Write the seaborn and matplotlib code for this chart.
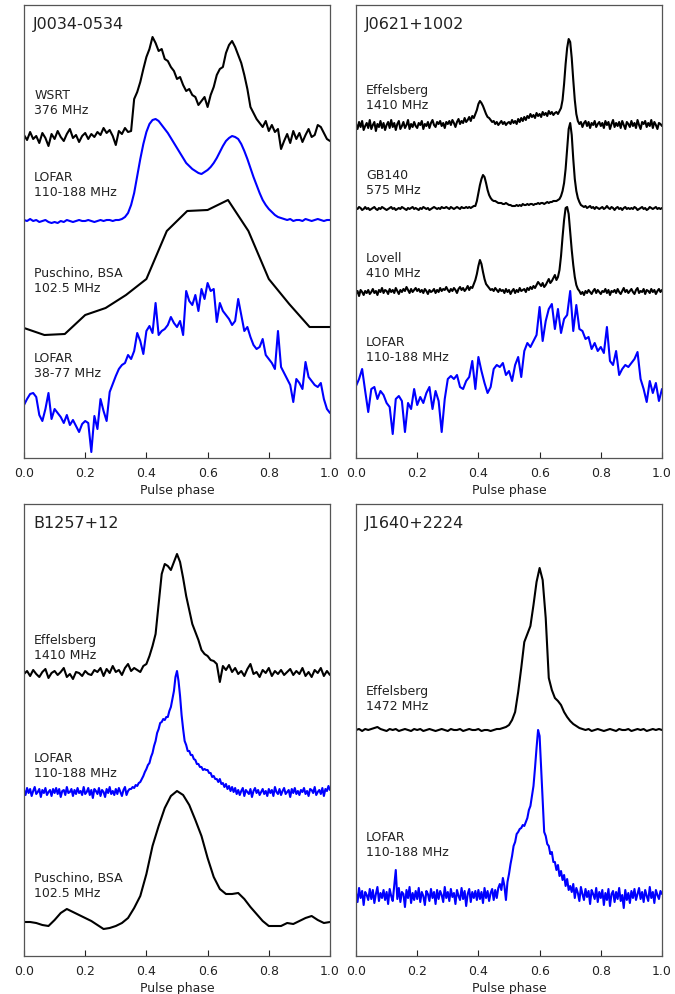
import numpy as np
import pandas as pd
import matplotlib
matplotlib.use("Agg")
import matplotlib.pyplot as plt
import seaborn as sns

# ---------------------------------------------------------------------------
# Pulse profiles: intensity above each profile's own baseline (common scale)
# ---------------------------------------------------------------------------

# J0034-0534
j0034_wsrt_376 = [
    2, -3, 5, -2, 1, -6, 4, -1, -9, 3,
    -2, 6, 0, -4, 3, 8, -1, 2, -5, 1,
    4, -2, 3, 0, 5, 2, 9, 4, 7, 1,
    -8, 6, 3, 9, 5, 6, 38, 45, 55, 68,
    80, 88, 100, 94, 86, 88, 78, 76, 70, 66,
    58, 60, 52, 46, 48, 42, 40, 32, 36, 40,
    30, 42, 50, 62, 68, 70, 84, 92, 96, 90,
    82, 74, 62, 48, 30, 24, 18, 14, 10, 16,
    6, 12, 5, 8, -12, -4, 3, -6, 6, -2,
    4, -5, 2, 8, 0, 2, 12, 10, 4, -2,
    -4]
j0034_lofar_hba = [
    1, 0, 2, 0, 1, -1, 0, 1, -1, -2,
    -1, -2, 0, -1, 1, 0, -1, 0, 1, 0,
    0, 1, 0, -1, 0, 1, 0, 1, 1, 0,
    1, 1, 2, 4, 8, 16, 28, 45, 62, 77,
    89, 97, 101, 102, 100, 96, 92, 88, 83, 78,
    73, 68, 63, 58, 55, 52, 50, 48, 47, 49,
    51, 54, 58, 63, 69, 75, 80, 83, 85, 84,
    82, 77, 70, 62, 53, 44, 36, 28, 21, 16,
    12, 9, 6, 4, 3, 2, 1, 2, 0, 1,
    1, 0, 2, 1, 0, 1, 2, 1, 0, 1, 1]
j0034_bsa_102 = [0, -7, -6, 13, 20, 33, 49, 97, 117, 118, 128, 97, 49, 24, 1, 1]
j0034_lofar_lba = [
    24, 30, 35, 36, 32, 14, 8, 20, 36, 10,
    20, 16, 12, 6, 14, 4, 9, 3, -3, 5,
    8, 6, -23, 13, 0, 30, 18, 8, 37, 45,
    53, 60, 64, 66, 74, 70, 78, 96, 88, 75,
    98, 103, 96, 126, 94, 98, 100, 104, 112, 106,
    102, 108, 94, 138, 128, 124, 134, 118, 140, 130,
    146, 138, 140, 107, 126, 118, 114, 110, 104, 108,
    130, 114, 98, 102, 92, 84, 80, 82, 90, 74,
    70, 66, 60, 98, 62, 56, 50, 44, 27, 50,
    46, 40, 67, 52, 48, 44, 42, 46, 30, 20, 16]

# J0621+1002
j0621_eff_1410 = [
    2, -3, 4, -1, 5, -4, 0, 3, -2, 6, -3, 1, 4, -5, 2, -1, 5, -2, 3, -4,
    1, 4, -2, 6, -1, 3, -4, 2, 5, -3, 0, 4, -2, 1, 6, -3, 2, -1, 4, 0,
    -2, 3, 1, 5, -3, 2, 0, 4, -2, 3, 6, 1, -1, 4, 2, 5, 0, 3, -2, 4,
    2, 5, 1, 6, 3, -1, 4, 7, 2, 5, 3, 8, 4, 6, 9, 5, 10, 8, 12, 16,
    22, 25, 23, 20, 16, 12, 9, 8, 6, 4, 5, 2, 4, 1, 3, 5, 2, 4, 1, 3,
    4, 2, 6, 3, 5, 2, 7, 4, 8, 5, 9, 6, 10, 8, 12, 9, 11, 8, 13, 10,
    12, 9, 14, 11, 13, 10, 15, 12, 14, 11, 13, 14, 12, 15, 18, 26, 42, 62, 78, 87,
    84, 68, 46, 26, 12, 5, 2, 4, -1, 3, 5, 0, 4, -2, 3, 1, 5, -1, 2, 4,
    0, 3, -2, 5, 1, 4, -3, 2, 6, -1, 3, 0, 4, -2, 5, 1, -3, 4, 2, -1,
    5, 0, 3, -2, 6, 1, -3, 4, 2, 5, -1, 3, 0, 6, -2, 4, 1, -3, 3, 2, 0]
j0621_gb140_575 = [
    1, 0, 2, 1, -1, 0, 2, 0, 1, -1, 0, 1, 2, 0, -1, 1, 0, 2, 1, 0,
    -1, 0, 1, 2, 0, 1, -1, 0, 1, 0, 2, 1, 0, -1, 1, 0, 1, 2, 0, 1,
    0, -1, 1, 0, 2, 1, 0, 1, -1, 0, 1, 2, 1, 0, 1, 0, 2, 1, 1, 2,
    1, 0, 2, 1, 0, 1, 2, 1, 0, 2, 1, 1, 2, 1, 2, 1, 2, 3, 3, 8,
    16, 24, 30, 34, 32, 26, 19, 14, 11, 9, 8, 8, 7, 6, 6, 6, 5, 5, 6, 5,
    4, 4, 3, 3, 3, 4, 3, 4, 3, 5, 4, 4, 5, 4, 5, 5, 4, 5, 5, 6,
    5, 6, 6, 5, 6, 7, 6, 7, 7, 8, 8, 8, 9, 10, 13, 18, 26, 40, 60, 80,
    86, 74, 50, 30, 18, 11, 7, 4, 3, 2, 3, 1, 2, 3, 1, 2, 0, 2, 1, 0,
    1, 2, 0, 1, 3, 1, 0, 2, 1, -1, 1, 2, 0, 1, -1, 1, 2, 0, 1, 0,
    1, 0, 2, 1, -1, 0, 1, 2, 0, 1, -1, 0, 2, 1, 0, 1, 2, 0, 1, 0, 1]
j0621_lovell_410 = [
    -2, 1, -4, 2, 0, -3, 1, -1, 2, -2, 0, 3, -1, 1, -3, 2, 0, 4, -1, 2,
    1, -2, 3, 0, 2, -1, 4, 1, -2, 2, 0, 3, 1, 5, 2, -1, 3, 0, 2, 4,
    1, 3, 0, 2, -1, 3, 1, -2, 2, 0, 1, 3, -1, 2, 0, 4, 1, 3, 2, 5,
    2, 0, 3, 1, 4, 2, -1, 3, 5, 2, 4, 1, 3, 6, 2, 5, 4, 8, 12, 18,
    26, 32, 28, 20, 13, 8, 6, 4, 2, 3, 1, 4, 2, 0, 3, 1, 2, -1, 3, 0,
    2, -2, 1, 3, -1, 2, 0, 4, 1, 2, 3, 0, 4, 2, 5, 3, 6, 4, 7, 10,
    8, 6, 9, 5, 7, 10, 13, 9, 11, 14, 17, 12, 15, 22, 36, 55, 72, 84, 85, 78,
    60, 42, 27, 15, 7, 3, 1, -2, 0, -3, 1, -1, 2, 0, -2, 1, 3, -1, 2, 0,
    -2, 1, 0, 3, -1, 2, -3, 1, 0, 2, -1, 3, 0, -2, 1, 4, 0, 2, -1, 1,
    3, 0, -2, 2, 4, -1, 1, 0, 3, -2, 2, 1, -1, 3, 0, 2, -2, 1, 3, 0, 2]
j0621_lofar_hba = [
    23, 30, 40, 18, -3, 20, 22, 10, 18, 14,
    6, 2, -25, 10, 13, 8, -23, 6, 0, 20,
    4, 12, 6, 16, 22, 0, 18, 8, -23, 10,
    30, 33, 30, 34, 22, 20, 28, 32, 48, 20,
    52, 38, 26, 16, 22, 40, 44, 42, 46, 34,
    38, 28, 44, 52, 32, 58, 66, 62, 68, 74,
    102, 68, 88, 100, 105, 80, 100, 76, 90, 94,
    118, 78, 104, 80, 78, 70, 72, 60, 66, 58,
    62, 56, 82, 48, 44, 58, 34, 40, 44, 42,
    46, 50, 57, 30, 20, 7, 28, 16, 26, 8, 20]

# B1257+12
b1257_eff_1410 = [
    0, 3, -2, 4, 0, -3, 2, 5, -4, 1,
    3, -1, 2, 6, -3, 0, -5, 2, 1, -2,
    3, 0, -1, 4, 2, 6, -2, 5, 1, 8,
    2, 4, -1, 6, 10, 3, 6, 4, 2, 8,
    10, 18, 28, 40, 70, 100, 110, 108, 104, 112,
    120, 112, 96, 78, 64, 50, 42, 34, 24, 20,
    18, 14, 13, 10, -8, 8, 4, 9, 2, 6,
    0, 3, -2, 5, 10, 0, 2, -3, 4, 1,
    6, -2, 3, 0, 4, -1, 2, 5, -1, 3,
    0, 6, -2, 2, -3, 4, 1, 6, -2, 3, -1]
b1257_lofar_hba = [
    2, -3, 4, -1, 3, -4, 1, 5, -2, 0, 3, -5, 2, -1, 4, -3, 0, 2, -4, 3,
    -1, 4, -2, 3, -5, 1, 2, -3, 5, -1, 0, 3, -4, 2, -2, 4, -1, 1, -3, 5,
    -2, 0, 4, -3, 2, -6, 3, 1, -2, 4, -4, 2, 0, -5, 3, -1, 5, -2, 1, -3,
    3, -2, 4, 0, -4, 2, 5, -3, 1, 3, 3, 5, 4, 7, 6, 9, 10, 13, 16, 20,
    23, 27, 29, 35, 39, 46, 51, 59, 63, 69, 70, 73, 72, 75, 75, 81, 85, 93, 101, 115,
    121, 111, 96, 77, 63, 51, 47, 41, 41, 37, 37, 33, 32, 28, 28, 25, 25, 22, 23, 22,
    22, 19, 19, 15, 16, 13, 13, 10, 13, 8, 9, 5, 8, 3, 6, 1, 5, 0, 4, -2,
    2, -3, 1, 4, -4, 2, 0, -2, 3, -5, 1, 4, -1, 2, -3, 0, 3, -2, 1, -4,
    3, -1, 2, -4, 5, 0, -2, 3, -3, 1, 4, -2, 0, 2, -5, 3, -1, 4, -2, 1,
    -3, 2, 0, 4, -2, 1, -4, 3, 2, -1, 5, -3, 0, 2, -2, 4, -4, 3, 1, 6, 2]
b1257_bsa_102 = [
    4, 4, 3, 1, 0, 6, 13, 17, 14, 11,
    8, 5, 1, -3, -2, 0, 3, 8, 18, 30,
    52, 80, 100, 118, 130, 135, 131, 121, 106, 90,
    68, 49, 37, 32, 32, 33, 27, 19, 12, 5,
    0, 0, 0, 3, 2, 5, 8, 10, 6, 3, 4]

# J1640+2224
j1640_eff_1472 = [
    0, 1, -1, 1, 0, 1, 2, 3, 1, 0,
    -1, 1, 0, 1, -1, 0, 1, 0, -1, 1,
    0, 1, -1, 0, 1, 0, -1, 0, 1, 0,
    -1, 1, 0, 0, 1, -1, 0, 1, 0, 0,
    1, -1, 0, 0, -1, 0, 1, 1, 2, 3,
    5, 10, 18, 38, 62, 88, 96, 104, 125, 148,
    162, 150, 112, 52, 40, 32, 29, 25, 18, 13,
    9, 6, 4, 2, 1, 0, 1, -1, 0, 1,
    0, -1, 0, 1, 0, -1, 1, 0, 0, 1,
    -1, 0, 1, 0, 1, -1, 0, 1, 0, 1, 0]
j1640_lofar_hba = [
    3, -6, 8, -2, 5, -9, 4, 1, -4, 7, -3, 6, -7, 2, 9, -5, 3, -2, 6, -4,
    4, -8, 7, 0, -5, 10, 26, -3, 8, -6, 4, 2, -11, 6, -2, 9, -7, 3, -4, 5,
    -3, 8, -6, 4, 0, -9, 5, 2, -5, 7, -2, 4, -8, 6, -3, 5, 1, -6, 9, -2,
    4, -5, 7, -1, 3, -8, 6, 0, -4, 8, -3, 5, -10, 2, 7, -6, 4, -2, 5, -4,
    6, -3, 4, -7, 8, -2, 5, -5, 3, 7, -4, 6, -2, 8, 12, 6, 18, 10, -4, 14,
    22, 32, 40, 50, 54, 62, 64, 67, 68, 71, 70, 74, 78, 86, 90, 100, 110, 128, 148, 166,
    160, 128, 96, 64, 60, 52, 50, 42, 44, 34, 34, 26, 31, 20, 25, 16, 21, 10, 17, 6,
    10, 4, 12, -2, 8, 3, -5, 9, 2, -4, 7, -1, 5, -8, 6, 2, -3, 8, -6, 4,
    -2, 6, -9, 3, -4, 7, -10, 2, 5, -6, 4, -3, 8, -5, 1, -12, 6, -4, 3, -7,
    5, -2, 7, -4, 2, 8, -3, 4, -6, 6, 0, -5, 9, -2, 4, -7, 6, 1, -3, 5, 2]

# Panel titles and per-trace labels
pulsars = ["J0034-0534", "J0621+1002", "B1257+12", "J1640+2224"]
labels = [
    ["WSRT\n376 MHz", "LOFAR\n110-188 MHz", "Puschino, BSA\n102.5 MHz", "LOFAR\n38-77 MHz"],
    ["Effelsberg\n1410 MHz", "GB140\n575 MHz", "Lovell\n410 MHz", "LOFAR\n110-188 MHz"],
    ["Effelsberg\n1410 MHz", "LOFAR\n110-188 MHz", "Puschino, BSA\n102.5 MHz"],
    ["Effelsberg\n1472 MHz", "LOFAR\n110-188 MHz"],
]
profiles = [
    [j0034_wsrt_376, j0034_lofar_hba, j0034_bsa_102, j0034_lofar_lba],
    [j0621_eff_1410, j0621_gb140_575, j0621_lovell_410, j0621_lofar_hba],
    [b1257_eff_1410, b1257_lofar_hba, b1257_bsa_102],
    [j1640_eff_1472, j1640_lofar_hba],
]
is_lofar = [
    [False, True, False, True],
    [False, False, False, True],
    [False, True, False],
    [False, True],
]

# Layout: vertical baselines of the stacked profiles and label heights
baselines = [[321, 237, 130, 29], [332, 249, 166, 49], [282, 164, 30], [226, 60]]
label_y = [[356, 274, 178, 93], [361, 276, 193, 109], [309, 191, 71], [258, 112]]
y_top = [453, 453, 452, 452]
axes_rect = [
    [24 / 675, 1 - 459 / 995, 306 / 675, 453 / 995],
    [356 / 675, 1 - 459 / 995, 306 / 675, 453 / 995],
    [24 / 675, 1 - 957 / 995, 306 / 675, 452 / 995],
    [356 / 675, 1 - 957 / 995, 306 / 675, 452 / 995],
]

sns.set_style("ticks")
plt.rcParams["font.family"] = ["DejaVu Sans"]

fig = plt.figure(figsize=(6.75, 9.95), dpi=100)

for p in range(4):
    ax = fig.add_axes(axes_rect[p])
    frames = []
    for k, prof in enumerate(profiles[p]):
        vals = np.asarray(prof, dtype=float)
        frames.append(pd.DataFrame({
            "phase": np.linspace(0.0, 1.0, len(vals)),
            "level": vals + baselines[p][k],
            "trace": f"t{k}",
        }))
    df = pd.concat(frames, ignore_index=True)
    palette = {f"t{k}": ("#0000ff" if is_lofar[p][k] else "black")
               for k in range(len(profiles[p]))}
    sns.lineplot(data=df, x="phase", y="level", hue="trace", palette=palette,
                 estimator=None, sort=False, legend=False, linewidth=1.5, ax=ax)

    for k, lab in enumerate(labels[p]):
        ax.text(0.033, label_y[p][k], lab, fontsize=9, color="#222222",
                ha="left", va="center", linespacing=1.25)
    ax.text(0.03, 0.975, pulsars[p], transform=ax.transAxes, fontsize=11.5,
            color="#222222", ha="left", va="top")

    ax.set_xlim(0, 1)
    ax.set_ylim(0, y_top[p])
    ax.set_xticks([0.0, 0.2, 0.4, 0.6, 0.8, 1.0])
    ax.set_xticklabels(["0.0", "0.2", "0.4", "0.6", "0.8", "1.0"])
    ax.set_yticks([])
    ax.set_xlabel("Pulse phase", fontsize=9, color="#222222", labelpad=3)
    ax.set_ylabel("")
    ax.tick_params(axis="x", direction="in", length=4, width=0.8, pad=6,
                   labelsize=9, colors="#222222", top=False)
    for s in ax.spines.values():
        s.set_visible(True)
        s.set_color("#555555")
        s.set_linewidth(0.9)

fig.savefig("out.png", dpi=100)
